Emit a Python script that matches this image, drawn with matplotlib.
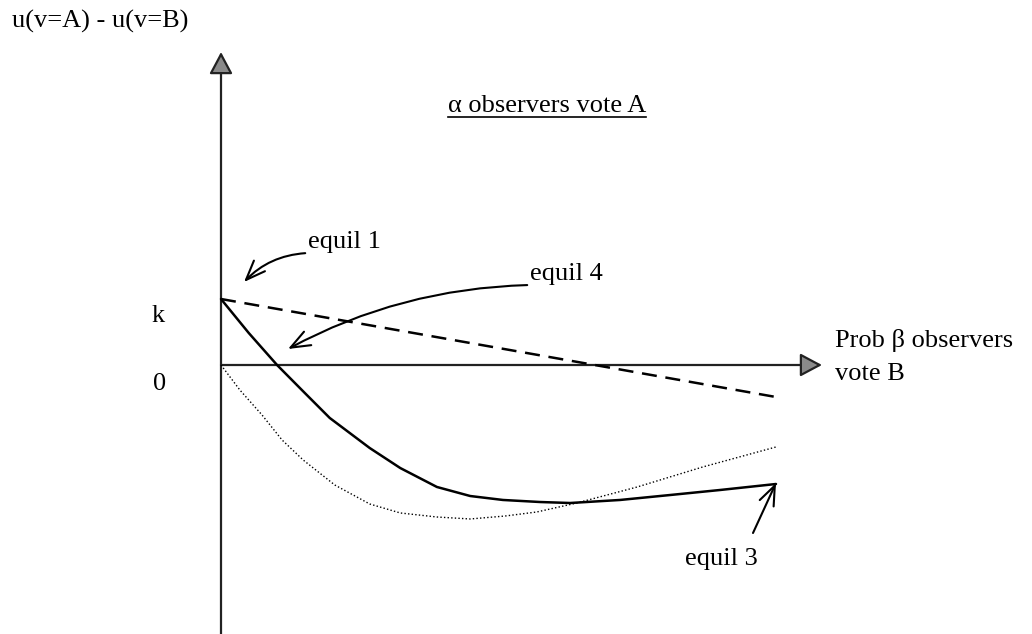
import matplotlib
matplotlib.use("Agg")
import matplotlib.pyplot as plt
from matplotlib.patches import FancyArrowPatch

plt.rcParams['font.family'] = ['Liberation Serif', 'DejaVu Serif']

# curves: x = prob beta observers vote B (0..1), y in units of k
solid_x = [0, 0.050, 0.101, 0.151, 0.196, 0.268, 0.323, 0.389, 0.449, 0.508,
           0.575, 0.629, 0.719, 0.809, 0.899, 1.0]
solid_y = [1.0, 0.485, 0.0, -0.424, -0.803, -1.258, -1.561, -1.848, -1.985, -2.045,
           -2.076, -2.091, -2.045, -1.970, -1.894, -1.803]

dotted_x = [0, 0.034, 0.074, 0.110, 0.148, 0.205, 0.268, 0.323, 0.389, 0.449,
            0.512, 0.569, 0.641, 0.750, 0.868, 1.0]
dotted_y = [0.0, -0.379, -0.758, -1.136, -1.439, -1.818, -2.106, -2.242, -2.303, -2.333,
            -2.288, -2.227, -2.091, -1.848, -1.545, -1.242]

dashed_x = [0, 1.0]
dashed_y = [1.0, -0.485]

# pixel calibration of the drawing (origin / scale)
W, H = 1032, 634
X0, SX = 221, 555.0
Y0, SY = 365, 66.0


def P(px, py):
    """pixel position -> data position"""
    return ((px - X0) / SX, (Y0 - py) / SY)


fig = plt.figure(figsize=(W / 100, H / 100), dpi=100)
ax = fig.add_axes([0, 0, 1, 1])
ax.set_xlim(-X0 / SX, (W - X0) / SX)
ax.set_ylim(-(H - Y0) / SY, Y0 / SY)
ax.axis('off')

# axes with filled grey arrow heads
axis_style = '-|>,head_length=1.35,head_width=0.72'
for start, end in [(P(X0, 634), P(X0, 52)), ((0, 0), P(822, Y0))]:
    arr = FancyArrowPatch(start, end, arrowstyle=axis_style, mutation_scale=10,
                          lw=1.6, shrinkA=0, shrinkB=0)
    arr.set_facecolor('#8a8a8a')
    arr.set_edgecolor('#222222')
    ax.add_patch(arr)

ax.plot(solid_x, solid_y, color='black', lw=1.8, solid_capstyle='round')
ax.plot(dashed_x, dashed_y, color='black', lw=1.8, dashes=(6, 3.5))
ax.plot(dotted_x, dotted_y, color='black', lw=1.0, dashes=(1, 1.6))

fs = 19
ax.text(*P(12, 28), 'u(v=A) - u(v=B)', fontsize=fs, va='baseline', ha='left')
t = ax.text(*P(646, 112), 'α observers vote A', fontsize=fs, va='baseline', ha='right')
ax.text(*P(152, 322), 'k', fontsize=fs, va='baseline', ha='left')
ax.text(*P(153, 390), '0', fontsize=fs, va='baseline', ha='left')
ax.text(*P(835, 347), 'Prob β observers', fontsize=fs, va='baseline', ha='left')
ax.text(*P(835, 380), 'vote B', fontsize=fs, va='baseline', ha='left')

open_arrow = dict(arrowstyle='->,head_length=1.4,head_width=0.55',
                  mutation_scale=10, lw=1.5, color='black',
                  shrinkA=0, shrinkB=0)
ax.annotate('equil 1', xy=P(244, 282), xytext=P(308, 248), fontsize=fs,
            va='baseline', ha='left',
            arrowprops=dict(open_arrow, connectionstyle='arc3,rad=0.2',
                            relpos=(0, 0)))
ax.annotate('equil 4', xy=P(288, 349), xytext=P(530, 280), fontsize=fs,
            va='baseline', ha='left',
            arrowprops=dict(open_arrow, connectionstyle='arc3,rad=0.12',
                            relpos=(0, 0)))
ax.annotate('', xy=P(776, 483), xytext=P(753, 533),
            arrowprops=open_arrow)
ax.text(*P(685, 565), 'equil 3', fontsize=fs, va='baseline', ha='left')

# underline the alpha heading
fig.canvas.draw()
bb = t.get_window_extent().transformed(ax.transData.inverted())
uy = P(0, 117)[1]
ax.plot([bb.x0, bb.x1], [uy, uy], color='black', lw=1.2)

fig.savefig('out.png', dpi=100)
